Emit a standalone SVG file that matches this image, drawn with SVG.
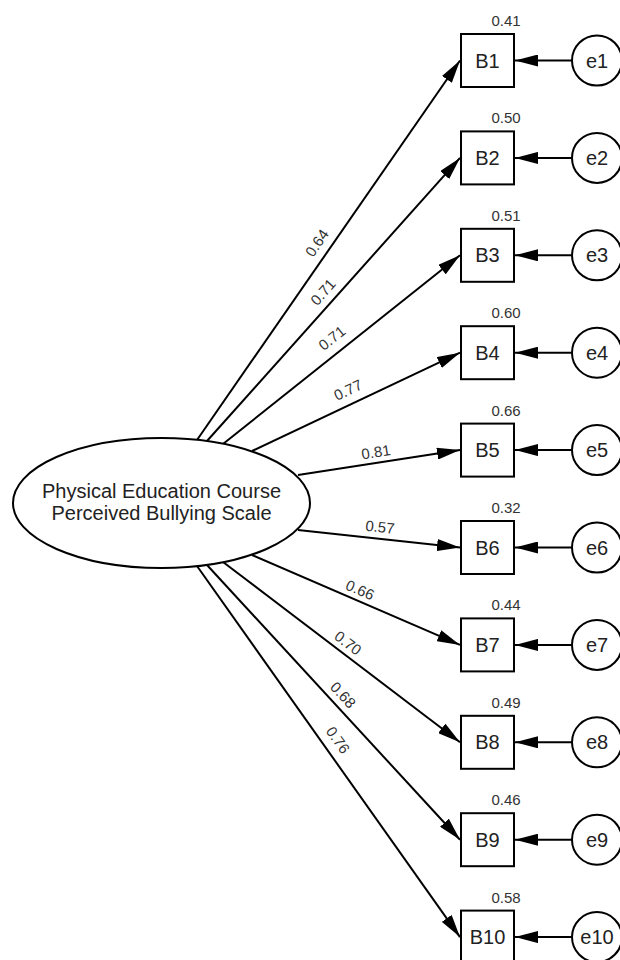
<svg xmlns="http://www.w3.org/2000/svg" width="620" height="960" viewBox="0 0 620 960">
<defs>
<marker id="ah" markerUnits="userSpaceOnUse" markerWidth="24" markerHeight="12" refX="23" refY="6" orient="auto">
<path d="M0,0 L23,6 L0,12 z" fill="#000"/>
</marker>
<style>
.ln{stroke:#000;stroke-width:2;fill:none;marker-end:url(#ah)}
.bx{fill:#fff;stroke:#000;stroke-width:2}
.ci{fill:#fff;stroke:#000;stroke-width:2}
.lb{font-family:"Liberation Sans",Arial,sans-serif;font-size:20px;fill:#222;text-anchor:middle}
.sm{font-family:"Liberation Sans",Arial,sans-serif;font-size:15px;fill:#333;text-anchor:middle}
</style>
</defs>
<rect width="620" height="960" fill="#fff"/>
<g id="connectors">
<line class="ln" x1="197" y1="440" x2="460" y2="60.5"/>
<line class="ln" x1="207" y1="441" x2="460" y2="157.9"/>
<line class="ln" x1="223" y1="444" x2="460" y2="255.3"/>
<line class="ln" x1="252" y1="451" x2="460" y2="352.7"/>
<line class="ln" x1="298" y1="475" x2="460" y2="450.1"/>
<line class="ln" x1="298" y1="530" x2="460" y2="547.5"/>
<line class="ln" x1="252" y1="555" x2="460" y2="644.9"/>
<line class="ln" x1="223" y1="562" x2="460" y2="742.3"/>
<line class="ln" x1="207" y1="565" x2="460" y2="839.7"/>
<line class="ln" x1="197" y1="566" x2="460" y2="937.1"/>
<line class="ln" x1="572" y1="60.5" x2="515" y2="60.5"/>
<line class="ln" x1="572" y1="157.9" x2="515" y2="157.9"/>
<line class="ln" x1="572" y1="255.3" x2="515" y2="255.3"/>
<line class="ln" x1="572" y1="352.7" x2="515" y2="352.7"/>
<line class="ln" x1="572" y1="450.1" x2="515" y2="450.1"/>
<line class="ln" x1="572" y1="547.5" x2="515" y2="547.5"/>
<line class="ln" x1="572" y1="644.9" x2="515" y2="644.9"/>
<line class="ln" x1="572" y1="742.3" x2="515" y2="742.3"/>
<line class="ln" x1="572" y1="839.7" x2="515" y2="839.7"/>
<line class="ln" x1="572" y1="937.1" x2="515" y2="937.1"/>
<g class="sm">
<text x="317" y="243" dy="0.35em" transform="rotate(-55.2 317 243)">0.64</text>
<text x="323" y="292" dy="0.35em" transform="rotate(-48.1 323 292)">0.71</text>
<text x="332" y="338" dy="0.35em" transform="rotate(-38.4 332 338)">0.71</text>
<text x="348" y="390" dy="0.35em" transform="rotate(-25.3 348 390)">0.77</text>
<text x="376" y="452" dy="0.35em" transform="rotate(-8.7 376 452)">0.81</text>
<text x="380" y="527" dy="0.35em" transform="rotate(6.1 380 527)">0.57</text>
<text x="360" y="590" dy="0.35em" transform="rotate(23.3 360 590)">0.66</text>
<text x="348" y="643" dy="0.35em" transform="rotate(37.1 348 643)">0.70</text>
<text x="343" y="695" dy="0.35em" transform="rotate(47.2 343 695)">0.68</text>
<text x="338" y="740" dy="0.35em" transform="rotate(54.6 338 740)">0.76</text>
</g>
</g>
<g id="factor">
<ellipse cx="161.5" cy="503" rx="148.5" ry="65" fill="#fff" stroke="#000" stroke-width="2"/>
<text class="lb" x="161.5" y="497.5">Physical Education Course</text>
<text class="lb" x="161.5" y="520">Perceived Bullying Scale</text>
</g>
<g id="B1"><rect class="bx" x="461" y="34" width="53" height="53"/><text class="lb" x="487.5" y="67.5">B1</text><text class="sm" x="506" y="26">0.41</text></g>
<g id="B2"><rect class="bx" x="461" y="131.4" width="53" height="53"/><text class="lb" x="487.5" y="164.9">B2</text><text class="sm" x="506" y="123.4">0.50</text></g>
<g id="B3"><rect class="bx" x="461" y="228.8" width="53" height="53"/><text class="lb" x="487.5" y="262.3">B3</text><text class="sm" x="506" y="220.8">0.51</text></g>
<g id="B4"><rect class="bx" x="461" y="326.2" width="53" height="53"/><text class="lb" x="487.5" y="359.7">B4</text><text class="sm" x="506" y="318.2">0.60</text></g>
<g id="B5"><rect class="bx" x="461" y="423.6" width="53" height="53"/><text class="lb" x="487.5" y="457.1">B5</text><text class="sm" x="506" y="415.6">0.66</text></g>
<g id="B6"><rect class="bx" x="461" y="521" width="53" height="53"/><text class="lb" x="487.5" y="554.5">B6</text><text class="sm" x="506" y="513">0.32</text></g>
<g id="B7"><rect class="bx" x="461" y="618.4" width="53" height="53"/><text class="lb" x="487.5" y="651.9">B7</text><text class="sm" x="506" y="610.4">0.44</text></g>
<g id="B8"><rect class="bx" x="461" y="715.8" width="53" height="53"/><text class="lb" x="487.5" y="749.3">B8</text><text class="sm" x="506" y="707.8">0.49</text></g>
<g id="B9"><rect class="bx" x="461" y="813.2" width="53" height="53"/><text class="lb" x="487.5" y="846.7">B9</text><text class="sm" x="506" y="805.2">0.46</text></g>
<g id="B10"><rect class="bx" x="461" y="910.6" width="53" height="53"/><text class="lb" x="487.5" y="944.1">B10</text><text class="sm" x="506" y="902.6">0.58</text></g>
<g id="e1"><circle class="ci" cx="597" cy="60.5" r="25"/><text class="lb" x="597" y="67.5">e1</text></g>
<g id="e2"><circle class="ci" cx="597" cy="157.9" r="25"/><text class="lb" x="597" y="164.9">e2</text></g>
<g id="e3"><circle class="ci" cx="597" cy="255.3" r="25"/><text class="lb" x="597" y="262.3">e3</text></g>
<g id="e4"><circle class="ci" cx="597" cy="352.7" r="25"/><text class="lb" x="597" y="359.7">e4</text></g>
<g id="e5"><circle class="ci" cx="597" cy="450.1" r="25"/><text class="lb" x="597" y="457.1">e5</text></g>
<g id="e6"><circle class="ci" cx="597" cy="547.5" r="25"/><text class="lb" x="597" y="554.5">e6</text></g>
<g id="e7"><circle class="ci" cx="597" cy="644.9" r="25"/><text class="lb" x="597" y="651.9">e7</text></g>
<g id="e8"><circle class="ci" cx="597" cy="742.3" r="25"/><text class="lb" x="597" y="749.3">e8</text></g>
<g id="e9"><circle class="ci" cx="597" cy="839.7" r="25"/><text class="lb" x="597" y="846.7">e9</text></g>
<g id="e10"><circle class="ci" cx="597" cy="937.1" r="25"/><text class="lb" x="597" y="944.1">e10</text></g>
</svg>
